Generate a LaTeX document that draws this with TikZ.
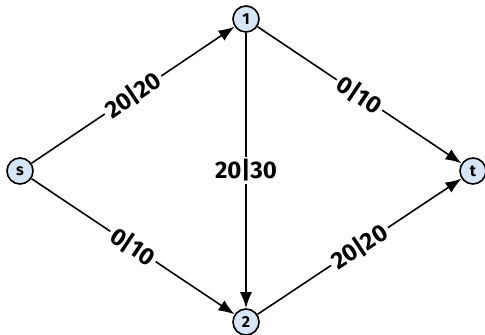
\documentclass[tikz,border=0pt]{standalone}
\usepackage{fontspec}
\setsansfont{Fira Sans}
\usetikzlibrary{arrows.meta}
\definecolor{nodeblue}{RGB}{214,230,246}
\tikzset{
  vertex/.style={circle,draw,thick,fill=nodeblue,minimum size=13pt,inner sep=0pt,font=\sffamily\footnotesize\bfseries},
  flow/.style={font=\sffamily\fontsize{12}{14}\selectfont\bfseries,fill=white,inner sep=1.5pt}
}
\begin{document}
\begin{tikzpicture}[x=0.5pt,y=-0.5pt]
      \useasboundingbox (0,0) rectangle (485,335);
      \draw
        (20,171) node[vertex] (s){s}
        (246,19) node[vertex] (1){1}
        (246,322) node[vertex] (2){2}
        (473,171) node[vertex] (t){t};
      \begin{scope}[-{Latex[length=8pt,width=6pt]},thick]
        \draw (s) to node[flow,sloped] {20|20} (1);
        \draw (s) to node[flow,sloped] {0|10} (2);
        \draw (1) to node[flow] {20|30} (2);
        \draw (1) to node[flow,sloped] {0|10} (t);
        \draw (2) to node[flow,sloped] {20|20} (t);
      \end{scope}
    \end{tikzpicture}
\end{document}
